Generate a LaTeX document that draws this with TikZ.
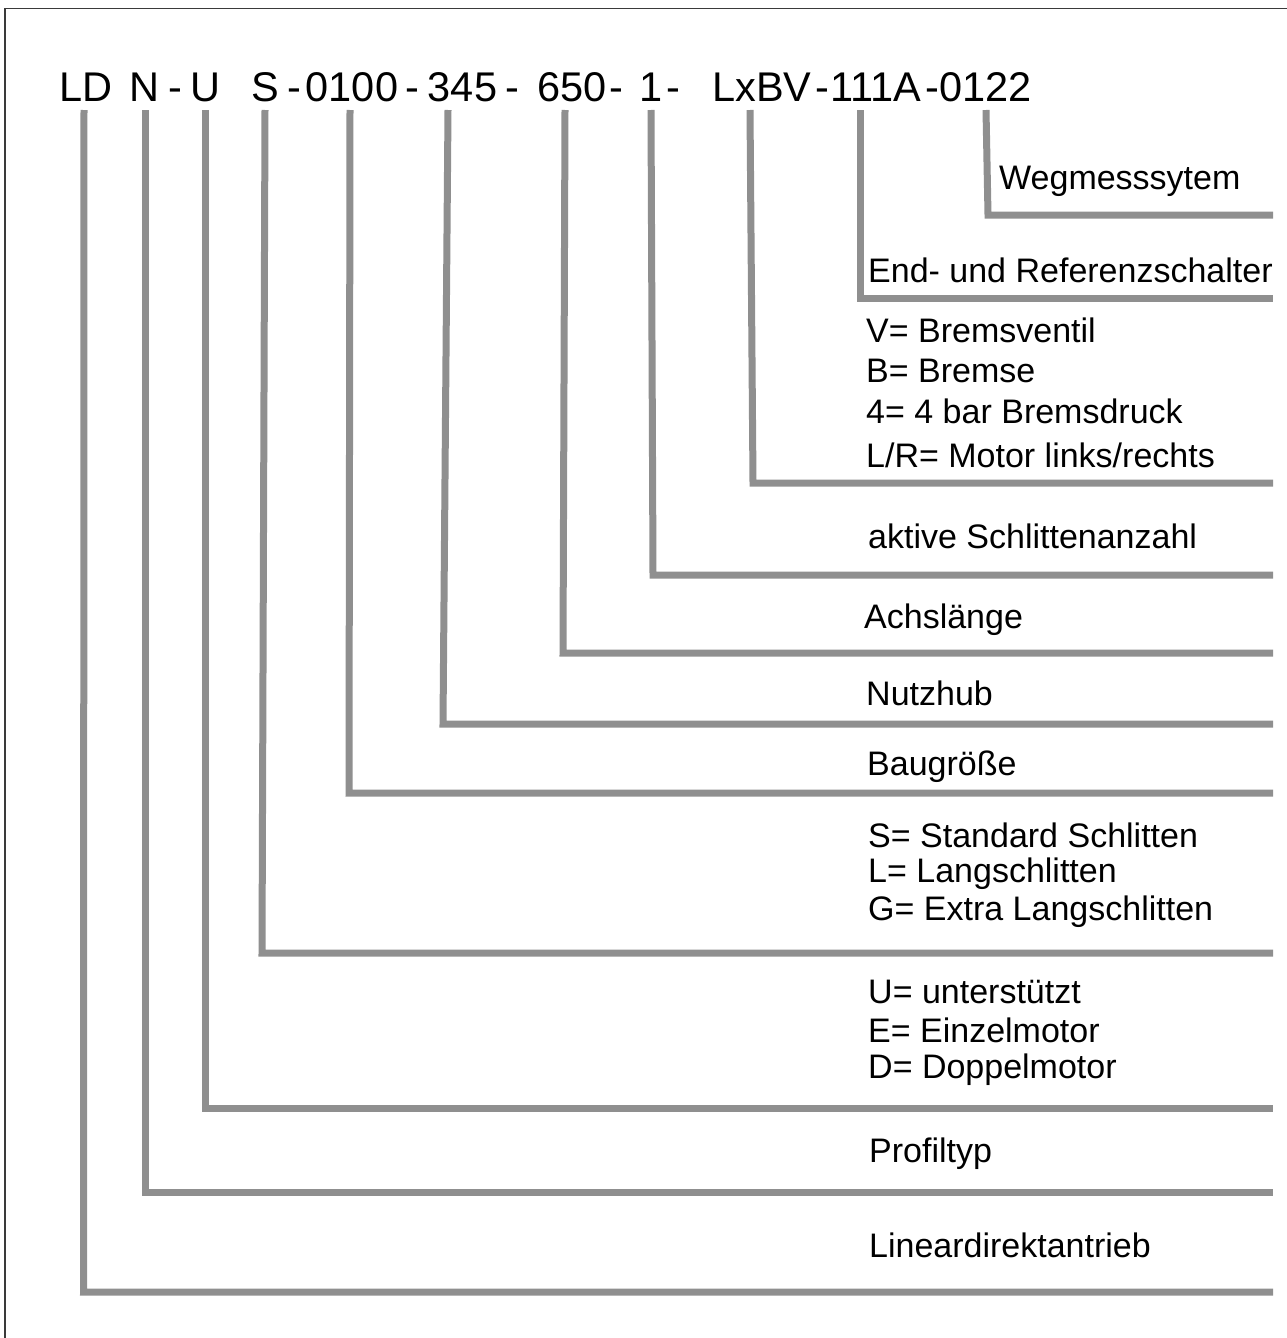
\documentclass[tikz,border=0pt]{standalone}
\usepackage{fontspec}
\setmainfont{Liberation Sans}
\definecolor{leadgray}{HTML}{8F8F8F}
\definecolor{framegray}{HTML}{3A3A3A}
\begin{document}
\begin{tikzpicture}[x=1pt,y=-1pt,
  lead/.style={draw=leadgray, line width=7pt, line join=miter, line cap=butt},
  code/.style={inner sep=0pt, anchor=base, font=\fontsize{41.5}{48}\selectfont},
  lbl/.style={inner sep=0pt, anchor=base west, font=\fontsize{34}{40}\selectfont},
]
\useasboundingbox (0,0) rectangle (1287,1338);
\draw[draw=framegray, line width=1.3pt] (5,1338) -- (5,8.5) -- (1287,8.5);

% header code
\node[code] (cLD)   at (86,101)    {LD};
\node[code] (cN)    at (144.5,101) {N};
\node[code] (d1)    at (175,101)   {-};
\node[code] (cU)    at (205.5,101) {U};
\node[code] (cS)    at (265,101)   {S};
\node[code] (d2)    at (294,101)   {-};
\node[code] (cBG)   at (352,101)   {0100};
\node[code] (d3)    at (412,101)   {-};
\node[code] (cNH)   at (462.5,101) {345};
\node[code] (d4)    at (512,101)   {-};
\node[code] (cAL)   at (572,101)   {650};
\node[code] (d5)    at (616,101)   {-};
\node[code] (cSA)   at (651.5,101) {1};
\node[code] (d6)    at (673.5,101) {-};
\node[code] (cBR)   at (762,101)   {LxBV};
\node[code] (d7)    at (822,101)   {-};
\node[code] (cES)   at (876,101)   {111A};
\node[code] (d8)    at (932,101)   {-};
\node[code] (cWM)   at (985.5,101) {0122};

% connector points
\coordinate (tLD) at (84,110);  \coordinate (kLD) at (83.5,1292); \coordinate (eLD) at (1273,1292);
\coordinate (tN)  at (145,110); \coordinate (kN)  at (145,1192);  \coordinate (eN)  at (1273,1192);
\coordinate (tU)  at (205,110); \coordinate (kU)  at (205,1108);  \coordinate (eU)  at (1273,1108);
\coordinate (tS)  at (265,110); \coordinate (kS)  at (262,953);   \coordinate (eS)  at (1273,953);
\coordinate (tBG) at (350,110); \coordinate (kBG) at (349,793);   \coordinate (eBG) at (1273,793);
\coordinate (tNH) at (448,110); \coordinate (kNH) at (443,724);   \coordinate (eNH) at (1273,724);
\coordinate (tAL) at (565,110); \coordinate (kAL) at (563,653);   \coordinate (eAL) at (1273,653);
\coordinate (tSA) at (651,110); \coordinate (kSA) at (653,575);   \coordinate (eSA) at (1273,575);
\coordinate (tBR) at (750,110); \coordinate (kBR) at (753,483);   \coordinate (eBR) at (1273,483);
\coordinate (tES) at (860,110); \coordinate (kES) at (860,298);   \coordinate (eES) at (1273,298);
\coordinate (tWM) at (986,110); \coordinate (kWM) at (988,215);   \coordinate (eWM) at (1273,215);

\draw[lead] (tLD) -- (kLD) -- (eLD);
\draw[lead] (tN)  -- (kN)  -- (eN);
\draw[lead] (tU)  -- (kU)  -- (eU);
\draw[lead] (tS)  -- (kS)  -- (eS);
\draw[lead] (tBG) -- (kBG) -- (eBG);
\draw[lead] (tNH) -- (kNH) -- (eNH);
\draw[lead] (tAL) -- (kAL) -- (eAL);
\draw[lead] (tSA) -- (kSA) -- (eSA);
\draw[lead] (tBR) -- (kBR) -- (eBR);
\draw[lead] (tES) -- (kES) -- (eES);
\draw[lead] (tWM) -- (kWM) -- (eWM);

% labels
\node[lbl] (lWM)  at (999,189)  {Wegmesssytem};
\node[lbl] (lES)  at (868,282)  {End- und Referenzschalter};
\node[lbl] (lBR1) at (866,342)  {V= Bremsventil};
\node[lbl] (lBR2) at (866,382)  {B= Bremse};
\node[lbl] (lBR3) at (866,423)  {4= 4 bar Bremsdruck};
\node[lbl] (lBR4) at (866,467)  {L/R= Motor links/rechts};
\node[lbl] (lSA)  at (868,548)  {aktive Schlittenanzahl};
\node[lbl] (lAL)  at (864,628)  {Achslänge};
\node[lbl] (lNH)  at (866,705)  {Nutzhub};
\node[lbl] (lBG)  at (867,775)  {Baugröße};
\node[lbl] (lS1)  at (868,847)  {S= Standard Schlitten};
\node[lbl] (lS2)  at (868,882)  {L= Langschlitten};
\node[lbl] (lS3)  at (868,920)  {G= Extra Langschlitten};
\node[lbl] (lU1)  at (868,1003) {U= unterstützt};
\node[lbl] (lU2)  at (868,1042) {E= Einzelmotor};
\node[lbl] (lU3)  at (868,1078) {D= Doppelmotor};
\node[lbl] (lN)   at (869,1162) {Profiltyp};
\node[lbl] (lLD)  at (869,1257) {Lineardirektantrieb};
\end{tikzpicture}
\end{document}
